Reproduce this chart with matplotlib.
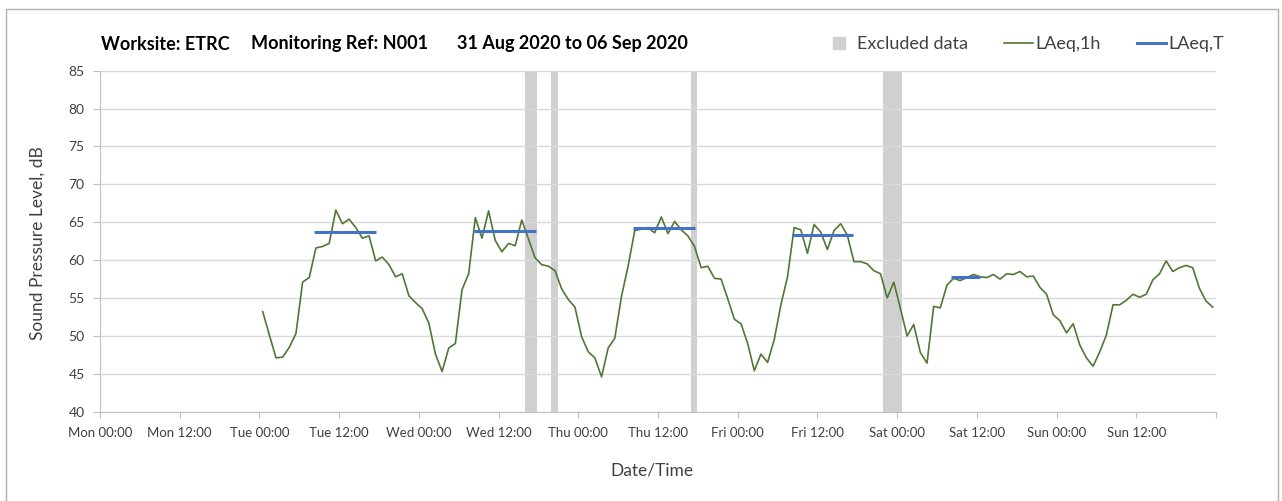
import numpy as np
import pandas as pd
import matplotlib
matplotlib.use("Agg")
import matplotlib.pyplot as plt
from matplotlib.patches import Rectangle
from matplotlib.lines import Line2D
import matplotlib.dates as mdates

plt.rcParams['font.family'] = ['Lato', 'DejaVu Sans']

# hourly LAeq,1h values, Tue 01 Sep 00:30 onwards
laeq_1h = [
    53.2, 50.1, 47.1, 47.2, 48.5, 50.3, 57.1, 57.7, 61.6, 61.8, 62.2, 66.6,
    64.8, 65.4, 64.3, 62.9, 63.2, 59.9, 60.4, 59.4, 57.8, 58.2, 55.3, 54.4,
    53.6, 51.7, 47.6, 45.3, 48.4, 49.0, 56.1, 58.2, 65.6, 62.9, 66.5, 62.6,
    61.1, 62.2, 61.9, 65.3, 62.8, 60.3, 59.4, 59.2, 58.6, 56.2, 54.8, 53.8,
    49.9, 47.9, 47.1, 44.6, 48.4, 49.7, 55.2, 59.2, 63.9, 64.1, 64.3, 63.6,
    65.7, 63.5, 65.1, 64.0, 63.2, 61.8, 59.0, 59.2, 57.6, 57.5, 54.9, 52.2,
    51.6, 49.0, 45.4, 47.6, 46.5, 49.5, 54.1, 57.8, 64.3, 64.0, 60.9, 64.7,
    63.7, 61.4, 63.9, 64.8, 63.3, 59.8, 59.8, 59.5, 58.6, 58.2, 55.0, 57.1,
    53.6, 50.0, 51.5, 47.8, 46.4, 53.9, 53.7, 56.7, 57.6, 57.3, 57.7, 58.1,
    57.8, 57.7, 58.1, 57.5, 58.2, 58.1, 58.5, 57.8, 57.9, 56.4, 55.5, 52.8,
    52.0, 50.4, 51.6, 48.8, 47.1, 46.0, 47.9, 50.1, 54.1, 54.1, 54.7, 55.5,
    55.1, 55.5, 57.4, 58.2, 59.9, 58.5, 59.0, 59.3, 59.0, 56.3, 54.6, 53.8,
]
times_1h = pd.date_range('2020-09-01 00:30', periods=len(laeq_1h), freq='h')

# LAeq,T daytime periods
laeq_t = [63.7, 63.9, 64.25, 63.3, 57.8]
t_start = ['2020-09-01 08:15', '2020-09-02 08:15', '2020-09-03 08:15',
           '2020-09-04 08:10', '2020-09-05 08:05']
t_end = ['2020-09-01 17:35', '2020-09-02 17:35', '2020-09-03 17:30',
         '2020-09-04 17:25', '2020-09-05 12:30']

# excluded periods
excl_start = ['2020-09-02 16:00', '2020-09-02 19:55', '2020-09-03 16:55', '2020-09-04 21:55']
excl_end = ['2020-09-02 17:50', '2020-09-02 20:55', '2020-09-03 17:55', '2020-09-05 00:45']

tick_labels = ['Mon 00:00', 'Mon 12:00', 'Tue 00:00', 'Tue 12:00', 'Wed 00:00',
               'Wed 12:00', 'Thu 00:00', 'Thu 12:00', 'Fri 00:00', 'Fri 12:00',
               'Sat 00:00', 'Sat 12:00', 'Sun 00:00', 'Sun 12:00', '']

green = '#4f7834'
blue = '#4472C4'
band = '#d0d0d0'
grid_c = '#d9d9d9'
txt = '#404040'

fig = plt.figure(figsize=(12.82, 5.01), dpi=100)
ax = fig.add_axes([0.078, 0.1783, 0.8705, 0.6806])

for s, e in zip(excl_start, excl_end):
    ax.axvspan(pd.Timestamp(s), pd.Timestamp(e), color=band, lw=0, zorder=0.4)

ax.plot(times_1h, laeq_1h, color=green, lw=1.2, zorder=3)
for v, s, e in zip(laeq_t, t_start, t_end):
    ax.plot([pd.Timestamp(s), pd.Timestamp(e)], [v, v], color=blue, lw=2.2,
            solid_capstyle='butt', zorder=4)

ax.set_xlim(pd.Timestamp('2020-08-31 00:00'), pd.Timestamp('2020-09-07 00:00'))
ax.set_ylim(40, 85)
ax.set_yticks(np.arange(40, 86, 5))

xt = pd.date_range('2020-08-31 00:00', '2020-09-07 00:00', freq='12h')
ax.set_xticks(xt)
ax.set_xticklabels(tick_labels)
ax.xaxis.set_minor_locator(mdates.DayLocator())

ax.set_axisbelow(True)
ax.grid(axis='y', color=grid_c, lw=1)
ax.grid(axis='x', which='minor', color=grid_c, lw=1)
ax.tick_params(axis='x', which='minor', length=0)
ax.tick_params(axis='x', which='major', length=4, color='#bfbfbf', labelsize=9.5,
               labelcolor=txt, pad=7)
ax.tick_params(axis='y', length=5, color='#bfbfbf', labelsize=10, labelcolor=txt, pad=6)

for side in ['top', 'right']:
    ax.spines[side].set_visible(False)
for side in ['left', 'bottom']:
    ax.spines[side].set_color('#bfbfbf')

fig.text(38 / 1282, 1 - 243 / 501, 'Sound Pressure Level, dB', rotation=90,
         ha='center', va='center', fontsize=12.5, color=txt)
fig.text(652 / 1282, 1 - 471 / 501, 'Date/Time', ha='center', va='center',
         fontsize=12.5, color=txt)

ty = 1 - 44 / 501
fig.text(101 / 1282, ty, 'Worksite: ETRC', fontsize=13, fontweight='bold', va='center')
fig.text(251 / 1282, ty, 'Monitoring Ref: N001', fontsize=13, fontweight='bold', va='center')
fig.text(457 / 1282, ty, '31 Aug 2020 to 06 Sep 2020', fontsize=13, fontweight='bold', va='center')

handles = [Line2D([], [], color=band, lw=0, marker='s', markersize=9),
           Line2D([], [], color=green, lw=1.2),
           Line2D([], [], color=blue, lw=2.2)]
labels = ['Excluded data', 'LAeq,1h', 'LAeq,T']
leg = ax.legend(handles, labels, loc='center right', bbox_to_anchor=(1224 / 1282, ty),
                bbox_transform=fig.transFigure, ncol=3, frameon=False, fontsize=13,
                handlelength=1.6, handletextpad=0.15, columnspacing=2.0,
                borderpad=0, borderaxespad=0)
for t in leg.get_texts():
    t.set_color(txt)

fig.patches.append(Rectangle((5.5 / 1282, -0.01), 1272 / 1282, 1 - 8.5 / 501 + 0.01,
                             transform=fig.transFigure, fill=False,
                             edgecolor='#b0b0b0', lw=1))

fig.savefig('out.png', dpi=100)
